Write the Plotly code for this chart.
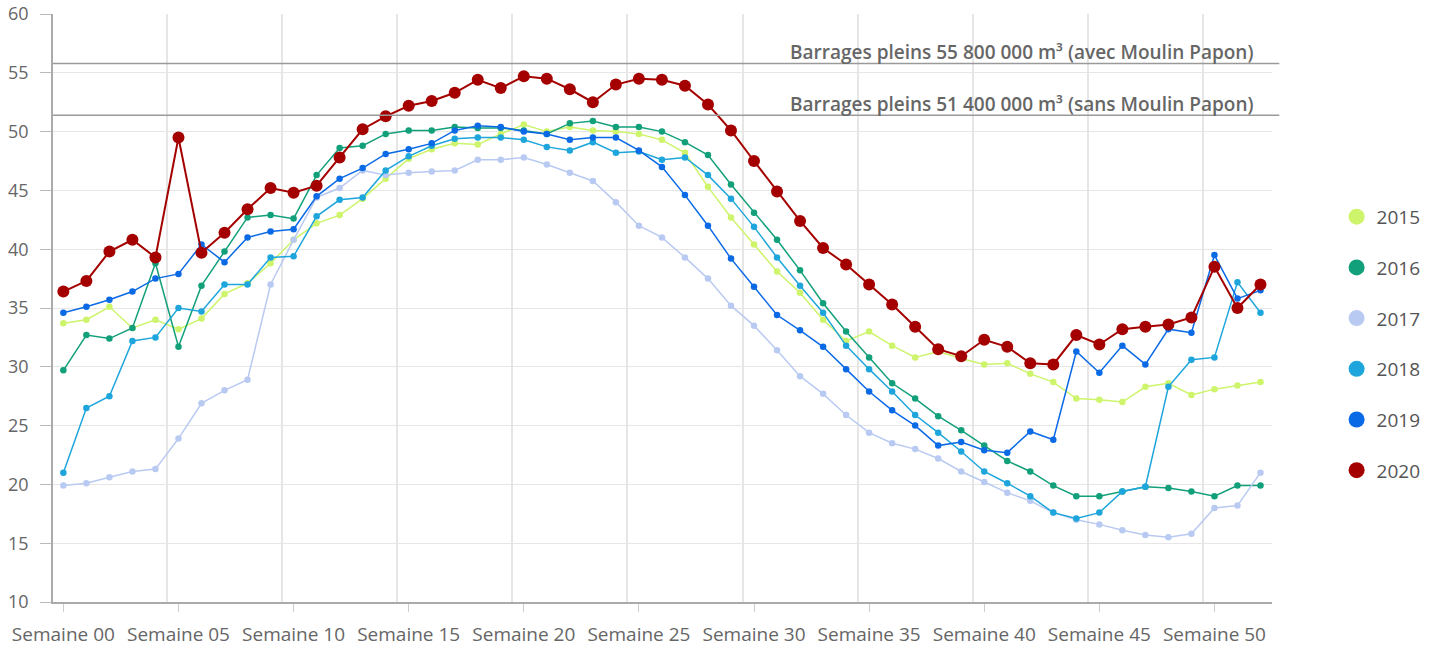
import plotly.graph_objects as go

weeks = list(range(53))
week_labels = ["Semaine %02d" % w for w in range(0, 51, 5)]
week_ticks = list(range(0, 51, 5))

years = ["2015", "2016", "2017", "2018", "2019", "2020"]
colors = ["#cdf46a", "#12a07a", "#b9caf2", "#1ea6dc", "#0a6ae6", "#a50000"]

v2015 = [33.7, 34.0, 35.1, 33.3, 34.0, 33.2, 34.1, 36.2, 37.1, 38.8,
         40.8, 42.2, 42.9, 44.3, 46.0, 47.7, 48.5, 49.0, 48.9, 49.8,
         50.6, 50.0, 50.4, 50.1, 50.0, 49.8, 49.3, 48.2, 45.3, 42.7,
         40.4, 38.1, 36.3, 34.0, 32.2, 33.0, 31.8, 30.8, 31.3, 30.7,
         30.2, 30.3, 29.4, 28.7, 27.3, 27.2, 27.0, 28.3, 28.6, 27.6,
         28.1, 28.4, 28.7]
v2016 = [29.7, 32.7, 32.4, 33.3, 38.8, 31.7, 36.9, 39.8, 42.7, 42.9,
         42.6, 46.3, 48.6, 48.8, 49.8, 50.1, 50.1, 50.4, 50.3, 50.3,
         50.1, 49.8, 50.7, 50.9, 50.4, 50.4, 50.0, 49.1, 48.0, 45.5,
         43.1, 40.8, 38.2, 35.4, 33.0, 30.8, 28.6, 27.3, 25.8, 24.6,
         23.3, 22.0, 21.1, 19.9, 19.0, 19.0, 19.4, 19.8, 19.7, 19.4,
         19.0, 19.9, 19.9]
v2017 = [19.9, 20.1, 20.6, 21.1, 21.3, 23.9, 26.9, 28.0, 28.9, 37.0,
         40.8, 44.4, 45.2, 46.7, 46.3, 46.5, 46.6, 46.7, 47.6, 47.6,
         47.8, 47.2, 46.5, 45.8, 44.0, 42.0, 41.0, 39.3, 37.5, 35.2,
         33.5, 31.4, 29.2, 27.7, 25.9, 24.4, 23.5, 23.0, 22.2, 21.1,
         20.2, 19.3, 18.6, 17.6, 17.0, 16.6, 16.1, 15.7, 15.5, 15.8,
         18.0, 18.2, 21.0]
v2018 = [21.0, 26.5, 27.5, 32.2, 32.5, 35.0, 34.7, 37.0, 37.0, 39.3,
         39.4, 42.8, 44.2, 44.4, 46.7, 47.9, 48.8, 49.4, 49.5, 49.5,
         49.3, 48.7, 48.4, 49.1, 48.2, 48.3, 47.6, 47.8, 46.3, 44.3,
         41.9, 39.3, 36.9, 34.6, 31.8, 29.8, 27.9, 25.9, 24.4, 22.8,
         21.1, 20.1, 19.0, 17.6, 17.1, 17.6, 19.4, 19.8, 28.3, 30.6,
         30.8, 37.2, 34.6]
v2019 = [34.6, 35.1, 35.7, 36.4, 37.5, 37.9, 40.4, 38.9, 41.0, 41.5,
         41.7, 44.5, 46.0, 46.9, 48.1, 48.5, 49.0, 50.1, 50.5, 50.4,
         50.0, 49.8, 49.3, 49.5, 49.5, 48.4, 47.0, 44.6, 42.0, 39.2,
         36.8, 34.4, 33.1, 31.7, 29.8, 27.9, 26.3, 25.0, 23.3, 23.6,
         22.9, 22.7, 24.5, 23.8, 31.3, 29.5, 31.8, 30.2, 33.2, 32.9,
         39.5, 35.8, 36.5]
v2020 = [36.4, 37.3, 39.8, 40.8, 39.3, 49.5, 39.7, 41.4, 43.4, 45.2,
         44.8, 45.4, 47.8, 50.2, 51.3, 52.2, 52.6, 53.3, 54.4, 53.7,
         54.7, 54.5, 53.6, 52.5, 54.0, 54.5, 54.4, 53.9, 52.3, 50.1,
         47.5, 44.9, 42.4, 40.1, 38.7, 37.0, 35.3, 33.4, 31.5, 30.9,
         32.3, 31.7, 30.3, 30.2, 32.7, 31.9, 33.2, 33.4, 33.6, 34.2,
         38.5, 35.0, 37.0]
series = [v2015, v2016, v2017, v2018, v2019, v2020]

ref_levels = [55.8, 51.4]
ref_labels = ["Barrages pleins 55 800 000 m³ (avec Moulin Papon)",
              "Barrages pleins 51 400 000 m³ (sans Moulin Papon)"]

FONT = "Open Sans"
fig = go.Figure()

for name, col, vals in zip(years, colors, series):
    big = name == "2020"
    fig.add_trace(go.Scatter(
        x=weeks, y=vals, mode="lines+markers", name=name,
        line=dict(color=col, width=2 if big else 1.5),
        marker=dict(color=col, size=12 if big else 6.5),
        showlegend=False, legendgroup=name))

for name, col in zip(years, colors):
    fig.add_trace(go.Scatter(
        x=[None], y=[None], mode="markers", name=name,
        marker=dict(color=col, size=16), showlegend=True, legendgroup=name))

for lvl, lab in zip(ref_levels, ref_labels):
    fig.add_shape(type="line", xref="paper", yref="y", x0=0, x1=1.006,
                  y0=lvl, y1=lvl, line=dict(color="#9a9a9a", width=1.5))
    fig.add_annotation(xref="paper", yref="y", x=0.986, y=lvl, text=lab,
                       showarrow=False, xanchor="right", yanchor="bottom", yshift=-4,
                       font=dict(family=FONT, size=19, color="#666666", weight=600))

fig.update_layout(
    width=1443, height=651,
    margin=dict(l=53, r=171, t=14, b=49, autoexpand=False),
    plot_bgcolor="white", paper_bgcolor="white",
    font=dict(family=FONT, color="#666666"),
    legend=dict(x=1.053, xanchor="left", y=0.439, yanchor="middle",
                font=dict(family=FONT, size=19, color="#555555"),
                tracegroupgap=23, traceorder="grouped",
                bgcolor="rgba(0,0,0,0)"),
    xaxis=dict(range=[-0.45, 52.5], tickmode="array", tickvals=week_ticks,
               ticktext=week_labels, showgrid=False, zeroline=False,
               automargin=False,
               showline=True, linecolor="#aaaaaa", linewidth=1.5,
               ticks="outside", ticklen=8, tickcolor="#cccccc",
               ticklabelstandoff=6,
               tickfont=dict(family=FONT, size=19, color="#666666")),
    yaxis=dict(range=[10, 60], dtick=5, showgrid=True, gridcolor="#e6e6e6",
               gridwidth=1.2, zeroline=False, showline=True, automargin=False,
               linecolor="#aaaaaa", linewidth=1.5, ticks="outside",
               ticklen=11, tickcolor="#bbbbbb", ticklabelstandoff=8,
               tickfont=dict(family=FONT, size=18, color="#666666")),
)
fig.update_xaxes(minor=dict(tick0=4.5, dtick=5, showgrid=True,
                            gridcolor="#e6e6e6", gridwidth=1.5, ticks=""))

fig.write_html("out.html", config={"displayModeBar": False},
               post_script="document.body.style.margin='0';document.body.style.overflow='hidden';")
